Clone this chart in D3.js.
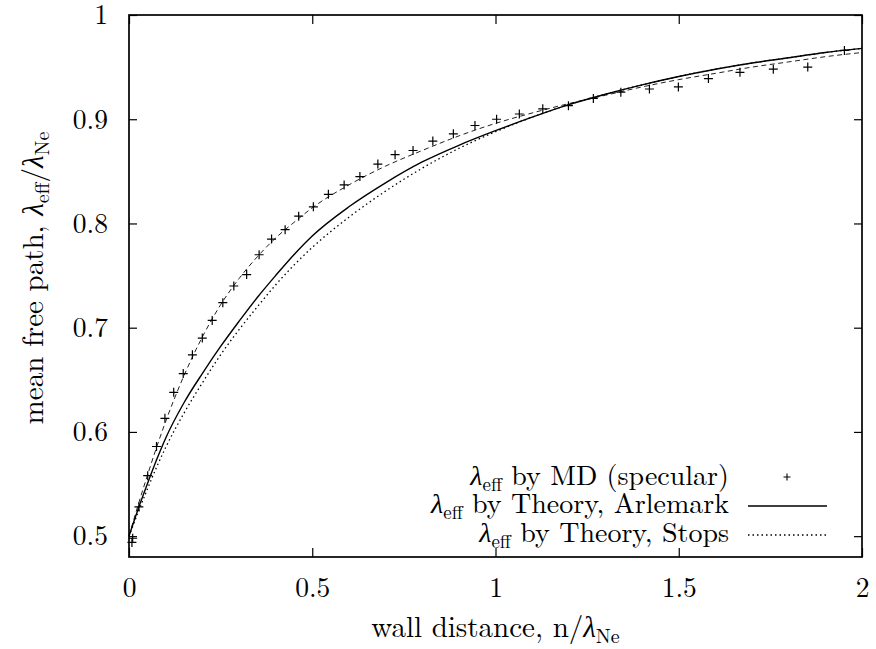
<!DOCTYPE html>
<html>
<head>
<meta charset="utf-8">
<script src="https://cdn.jsdelivr.net/npm/d3@7"></script>
<style>
    body { margin: 0; background: #fff; }
    svg { display: block; }
</style>
</head>
<body>
<svg class="mfpChart"></svg>
<script>
// MD points (specular walls)
const mdX = [0.010, 0.008, 0.027, 0.051, 0.075, 0.098, 0.122, 0.148, 0.173, 0.200, 0.227, 0.256, 0.286,
    0.321, 0.355, 0.389, 0.426, 0.463, 0.503, 0.544, 0.587, 0.630, 0.679, 0.726, 0.775, 0.829, 0.885,
    0.944, 1.003, 1.065, 1.129, 1.199, 1.267, 1.342, 1.420, 1.499, 1.581, 1.667, 1.758, 1.852, 1.952];
const mdY = [0.498, 0.494, 0.528, 0.558, 0.586, 0.613, 0.638, 0.656, 0.674, 0.690, 0.707, 0.724, 0.740,
    0.751, 0.770, 0.785, 0.794, 0.807, 0.816, 0.828, 0.837, 0.845, 0.857, 0.866, 0.870, 0.879, 0.886,
    0.894, 0.900, 0.905, 0.910, 0.913, 0.920, 0.926, 0.929, 0.931, 0.939, 0.945, 0.948, 0.950, 0.966];

// curves
const curveX = [0, 0.025, 0.05, 0.075, 0.1, 0.15, 0.2, 0.25, 0.3, 0.35, 0.4, 0.45, 0.5, 0.6, 0.7, 0.8,
    0.9, 1.0, 1.1, 1.2, 1.3, 1.4, 1.5, 1.6, 1.7, 1.8, 1.9, 2.0];
const arlemarkY = [0.500, 0.526, 0.550, 0.573, 0.594, 0.628, 0.656, 0.682, 0.706, 0.729, 0.750, 0.770,
    0.788, 0.816, 0.839, 0.859, 0.875, 0.889, 0.902, 0.914, 0.924, 0.933, 0.941, 0.948, 0.954, 0.959,
    0.964, 0.968];
const stopsY = [0.500, 0.523, 0.545, 0.566, 0.585, 0.618, 0.647, 0.674, 0.698, 0.720, 0.741, 0.760,
    0.777, 0.806, 0.831, 0.853, 0.872, 0.888, 0.902, 0.914, 0.924, 0.933, 0.941, 0.948, 0.954, 0.959,
    0.964, 0.968];
const fitY = [0.500, 0.530, 0.558, 0.585, 0.610, 0.654, 0.691, 0.722, 0.747, 0.768, 0.786, 0.801,
    0.815, 0.837, 0.855, 0.870, 0.884, 0.896, 0.906, 0.915, 0.923, 0.931, 0.938, 0.944, 0.950, 0.955,
    0.960, 0.964];

const xTicks = [0, 0.5, 1, 1.5, 2];
const xTickLabels = ["0", "0.5", "1", "1.5", "2"];
const yTicks = [0.5, 0.6, 0.7, 0.8, 0.9, 1];
const yTickLabels = ["0.5", "0.6", "0.7", "0.8", "0.9", "1"];

const legendLabels = ["by MD (specular)", "by Theory, Arlemark", "by Theory, Stops"];

const serif = "'Latin Modern Roman', 'CMU Serif', 'Liberation Serif', 'DejaVu Serif', 'Noto Serif', " +
    "Tinos, 'Times New Roman', 'Nimbus Roman', 'FreeSerif', Georgia, serif";

// lambda (slanted) followed by an upright subscript
function lambdaSub(sel, sub, size) {
    sel.append("tspan").style("font-style", "italic").text("λ");
    sel.append("tspan").attr("dy", 6).style("font-size", size + "px").text(sub);
}

function makeChart() {
    const svgWidth = 876,
        svgHeight = 649;
    const margin = { top: 15, right: 14, bottom: 92, left: 129 };
    const width = svgWidth - margin.left - margin.right;
    const height = svgHeight - margin.top - margin.bottom;

    const canvas = d3.select(".mfpChart")
        .attr("width", svgWidth)
        .attr("height", svgHeight)
        .style("font-family", serif);

    const plotArea = canvas.append("g")
        .attr("transform", `translate(${margin.left},${margin.top})`);

    const x = d3.scaleLinear().domain([0, 2]).range([0, width]);
    const y = d3.scaleLinear().domain([0.48, 1]).range([height, 0]);

    // Axes, ticks pointing inwards, mirrored on top/right
    plotArea.append("g")
        .attr("transform", `translate(0,${height})`)
        .call(d3.axisBottom(x).tickValues(xTicks).tickSize(-9).tickPadding(20)
            .tickFormat((d, i) => xTickLabels[i]));
    plotArea.append("g")
        .call(d3.axisLeft(y).tickValues(yTicks).tickSize(-8).tickPadding(21)
            .tickFormat((d, i) => yTickLabels[i]));
    plotArea.append("g")
        .call(d3.axisTop(x).tickValues(xTicks).tickSize(-9).tickFormat(""));
    plotArea.append("g")
        .attr("transform", `translate(${width},0)`)
        .call(d3.axisRight(y).tickValues(yTicks).tickSize(-8).tickFormat(""));

    plotArea.selectAll(".domain").remove();
    plotArea.selectAll("g").attr("font-family", null);
    plotArea.selectAll(".tick line").attr("stroke", "#000").attr("stroke-width", 1.2);
    plotArea.selectAll(".tick text")
        .attr("fill", "#000")
        .style("font-family", serif)
        .style("font-size", "27.5px");

    // Curves
    const line = d3.line()
        .x(d => x(d[0]))
        .y(d => y(d[1]))
        .curve(d3.curveMonotoneX);

    plotArea.append("path")
        .datum(curveX.map((v, i) => [v, fitY[i]]))
        .attr("fill", "none")
        .attr("stroke", "#222")
        .attr("stroke-width", 1)
        .attr("stroke-dasharray", "5,3.5")
        .attr("d", line);

    plotArea.append("path")
        .datum(curveX.map((v, i) => [v, stopsY[i]]))
        .attr("fill", "none")
        .attr("stroke", "#000")
        .attr("stroke-width", 1.3)
        .attr("stroke-dasharray", "1.5,3")
        .attr("d", line);

    plotArea.append("path")
        .datum(curveX.map((v, i) => [v, arlemarkY[i]]))
        .attr("fill", "none")
        .attr("stroke", "#000")
        .attr("stroke-width", 1.4)
        .attr("d", line);

    // MD points as plus marks
    const plus = (cx, cy, s) => `M${cx - s},${cy}h${2 * s}M${cx},${cy - s}v${2 * s}`;
    plotArea.append("g")
        .selectAll("path")
        .data(mdX.map((v, i) => [v, mdY[i]]))
        .enter().append("path")
        .attr("fill", "none")
        .attr("stroke", "#000")
        .attr("stroke-width", 1.2)
        .attr("d", d => plus(x(d[0]), y(d[1]), 4.5));

    // Frame
    plotArea.append("rect")
        .attr("width", width)
        .attr("height", height)
        .attr("fill", "none")
        .attr("stroke", "#000")
        .attr("stroke-width", 1.7);

    // Legend
    const legend = canvas.append("g").style("font-size", "28px");
    const rowY = [485, 513, 542];
    legendLabels.forEach((lab, i) => {
        const t = legend.append("text")
            .attr("x", 729)
            .attr("y", rowY[i])
            .attr("text-anchor", "end");
        lambdaSub(t, "eff", 19);
        t.append("tspan").attr("dy", -6).text(" " + lab);
    });
    legend.append("path")
        .attr("stroke", "#000").attr("stroke-width", 1.1)
        .attr("d", plus(787, 477, 3.5));
    legend.append("line")
        .attr("x1", 748).attr("x2", 827).attr("y1", 506).attr("y2", 506)
        .attr("stroke", "#000").attr("stroke-width", 1.4);
    legend.append("line")
        .attr("x1", 748).attr("x2", 826).attr("y1", 535).attr("y2", 535)
        .attr("stroke", "#000").attr("stroke-width", 1.3).attr("stroke-dasharray", "1.5,3");

    // Axis labels
    const xl = canvas.append("text")
        .attr("x", margin.left + width / 2)
        .attr("y", 637)
        .attr("text-anchor", "middle")
        .style("font-size", "29px");
    xl.append("tspan").text("wall distance, n/");
    lambdaSub(xl, "Ne", 20);

    const yl = canvas.append("text")
        .attr("transform", "translate(43,278) rotate(-90)")
        .attr("text-anchor", "middle")
        .style("font-size", "29px");
    yl.append("tspan").text("mean free path, ");
    lambdaSub(yl, "eff", 20);
    yl.append("tspan").attr("dy", -6).text("/");
    lambdaSub(yl, "Ne", 20);
}

makeChart();
</script>
</body>
</html>
